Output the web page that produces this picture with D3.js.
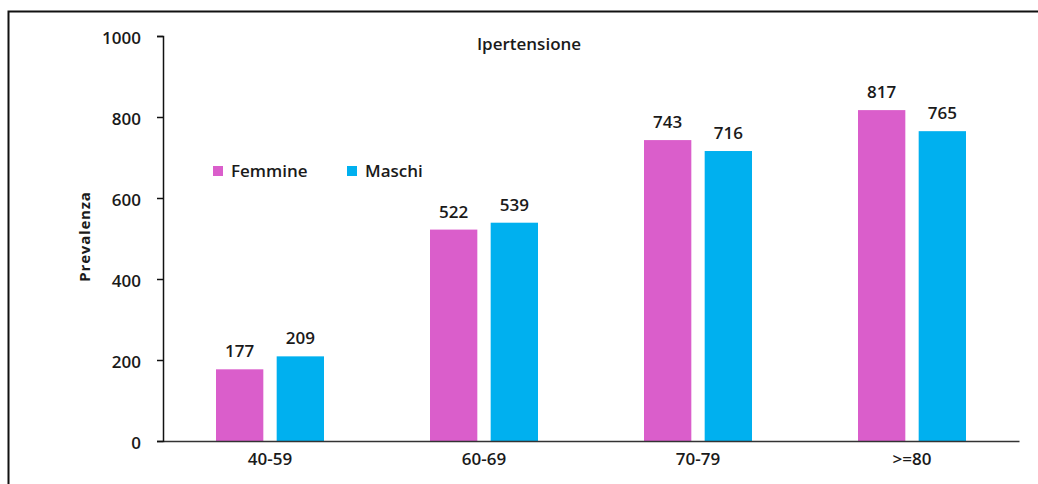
<!DOCTYPE html>
<html>
<head>
<meta charset="utf-8">
<script src="https://cdn.jsdelivr.net/npm/d3@7"></script>
<style>
  body { margin: 0; background: #fff; }
  text { font-family: "Open Sans", sans-serif; fill: #1a1a1a; }
</style>
</head>
<body>
<div id="chart"></div>
<script>
'use strict';

var categories = ["40-59", "60-69", "70-79", ">=80"];
var seriesNames = ["Femmine", "Maschi"];
var femmine = [177, 522, 743, 817];
var maschi = [209, 539, 716, 765];
var yTicks = [0, 200, 400, 600, 800, 1000];
var colors = ["#da5ecb", "#00b0ef"];

var svgWidth = 1038, svgHeight = 484,
    margin = { top: 36, left: 163, right: 19, bottom: 43 };
var width = svgWidth - margin.left - margin.right;
var height = svgHeight - margin.top - margin.bottom;

var svg = d3.select("#chart")
  .append("svg")
  .attr("width", svgWidth)
  .attr("height", svgHeight);

// outer frame (top and left edges visible)
svg.append("rect")
  .attr("x", 8.5)
  .attr("y", 11.5)
  .attr("width", svgWidth + 10)
  .attr("height", svgHeight + 10)
  .attr("fill", "none")
  .attr("stroke", "#111")
  .attr("stroke-width", 2);

var main = svg.append("g")
  .attr("transform", "translate(" + margin.left + "," + margin.top + ")");

var x = d3.scaleBand()
  .domain(categories)
  .range([0, width]);

var inner = d3.scaleBand()
  .domain(seriesNames)
  .range([0, 108])
  .paddingInner(0.22);

var y = d3.scaleLinear()
  .domain([0, 1000])
  .range([height, 0]);

var rows = categories.map(function(c, i) {
  return { cat: c, values: [femmine[i], maschi[i]] };
});

var groups = main.selectAll(".group")
  .data(rows)
  .enter().append("g")
  .attr("transform", function(d) {
    return "translate(" + (x(d.cat) + x.bandwidth() / 2 - 54) + ",0)";
  });

groups.selectAll("rect")
  .data(function(d) { return d.values; })
  .enter().append("rect")
  .attr("x", function(d, i) { return inner(seriesNames[i]); })
  .attr("y", function(d) { return y(d); })
  .attr("width", inner.bandwidth())
  .attr("height", function(d) { return height - y(d); })
  .attr("fill", function(d, i) { return colors[i]; });

groups.selectAll(".val")
  .data(function(d) { return d.values; })
  .enter().append("text")
  .attr("class", "val")
  .attr("x", function(d, i) { return inner(seriesNames[i]) + inner.bandwidth() / 2; })
  .attr("y", function(d) { return y(d) - 12; })
  .attr("text-anchor", "middle")
  .style("font-size", "17px")
  .style("font-weight", "600")
  .text(function(d) { return d; });

// x axis
var xAxisG = main.append("g")
  .attr("transform", "translate(0," + height + ")")
  .call(d3.axisBottom(x).tickSize(0).tickPadding(12));
xAxisG.select(".domain").attr("stroke", "#333").attr("stroke-width", 1.5);
xAxisG.selectAll("text")
  .style("font-size", "17px")
  .style("font-weight", "600")
  .attr("fill", "#1a1a1a");

// y axis
var yAxisG = main.append("g")
  .call(d3.axisLeft(y).tickValues(yTicks).tickFormat(d3.format("d"))
    .tickSizeOuter(0).tickSize(6).tickPadding(16));
yAxisG.select(".domain").attr("stroke", "#111").attr("stroke-width", 1.5);
yAxisG.selectAll(".tick line").attr("stroke", "#111").attr("stroke-width", 1.5);
yAxisG.selectAll("text")
  .style("font-size", "17px")
  .style("font-weight", "600")
  .attr("dy", "0.45em")
  .attr("fill", "#1a1a1a");

// y title
main.append("text")
  .attr("transform", "rotate(-90)")
  .attr("x", -height / 2 + 2)
  .attr("y", -73)
  .attr("text-anchor", "middle")
  .style("font-size", "15px")
  .style("font-weight", "bold")
  .style("letter-spacing", "0.8px")
  .text("Prevalenza");

// chart title
main.append("text")
  .attr("x", 366)
  .attr("y", 14)
  .attr("text-anchor", "middle")
  .style("font-size", "17px")
  .style("font-weight", "600")
  .text("Ipertensione");

// legend
var legendX = [50, 184];
var legend = main.selectAll(".legend")
  .data(seriesNames)
  .enter().append("g")
  .attr("transform", function(d, i) { return "translate(" + legendX[i] + ",130)"; });

legend.append("rect")
  .attr("x", 0)
  .attr("y", 0)
  .attr("width", 10)
  .attr("height", 10)
  .attr("fill", function(d, i) { return colors[i]; });

legend.append("text")
  .attr("x", 18)
  .attr("y", 11)
  .style("font-size", "17px")
  .style("font-weight", "600")
  .text(function(d) { return d; });
</script>
</body>
</html>
